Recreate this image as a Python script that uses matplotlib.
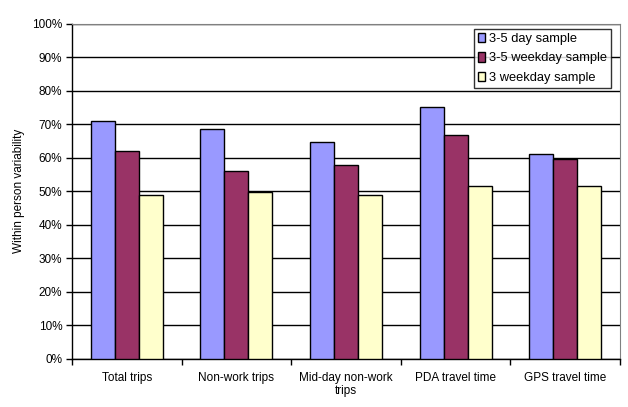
import matplotlib
matplotlib.use("Agg")
import matplotlib.pyplot as plt
import numpy as np
from matplotlib.ticker import PercentFormatter

categories = ["Total trips", "Non-work trips", "Mid-day non-work\ntrips", "PDA travel time", "GPS travel time"]
series_names = ["3-5 day sample", "3-5 weekday sample", "3 weekday sample"]
day_35 = [71.0, 68.5, 64.6, 75.1, 61.0]
weekday_35 = [61.9, 56.2, 57.7, 66.7, 59.6]
weekday_3 = [49.0, 49.7, 48.8, 51.7, 51.7]
colors = ["#9999FF", "#993366", "#FFFFCC"]

plt.rcParams['font.family'] = ['Liberation Sans', 'DejaVu Sans']

fig = plt.figure(figsize=(6.28, 4.07), dpi=100)
ax = fig.add_axes([72/628, (407-358.5)/407, (620-72)/628, (358.5-24)/407])

x = np.arange(len(categories))
w = 0.219
for i, (vals, name, c) in enumerate(zip([day_35, weekday_35, weekday_3], series_names, colors)):
    ax.bar(x + (i - 1) * w, vals, width=w, color=c, edgecolor="black", linewidth=1.0,
           label=name, zorder=3)

ax.set_xlim(-0.5, len(categories) - 0.5)
ax.set_ylim(0, 100)
ax.set_yticks(np.arange(0, 101, 10))
ax.yaxis.set_major_formatter(PercentFormatter(decimals=0))
ax.yaxis.grid(True, color="black", linewidth=1.0, zorder=0)
ax.set_axisbelow(True)

ax.set_xticks(x)
ax.set_xticklabels(categories)
ax.set_xticks(np.arange(-0.5, len(categories), 1.0), minor=True)
ax.tick_params(axis="x", which="major", length=0, pad=9.5, labelsize=8.5)
ax.tick_params(axis="x", which="minor", length=4, direction="out", width=1)
ax.tick_params(axis="y", length=4, direction="out", width=1, labelsize=8.5, pad=3)

for s in ["top", "right"]:
    ax.spines[s].set_color("#808080")
for s in ["left", "bottom"]:
    ax.spines[s].set_color("black")
    ax.spines[s].set_linewidth(1.0)

ax.set_ylabel("Within person variability", fontsize=8.5, labelpad=5)

leg = ax.legend(loc="upper right", bbox_to_anchor=(0.9836, 0.985), fontsize=9.3, frameon=True,
                fancybox=False, edgecolor="black", handlelength=0.55, handleheight=0.75,
                handletextpad=0.3, borderpad=0.3, labelspacing=0.55, borderaxespad=0)
leg.get_frame().set_linewidth(1.0)
leg.set_zorder(5)

fig.savefig("out.png", dpi=100)
